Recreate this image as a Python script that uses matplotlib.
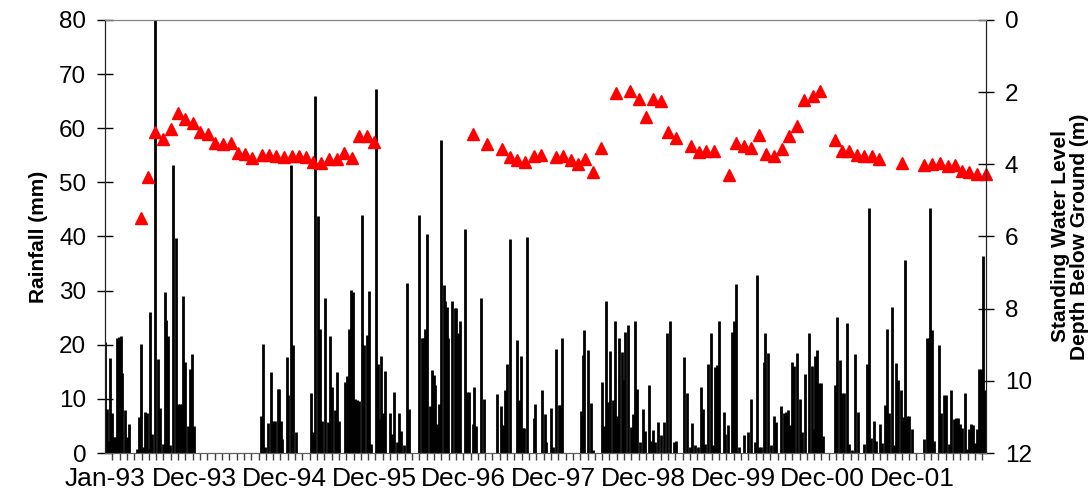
import numpy as np
import pandas as pd
import matplotlib
matplotlib.use("Agg")
import matplotlib.pyplot as plt
import matplotlib.dates as mdates

plt.rcParams["font.family"] = ["Liberation Sans", "DejaVu Sans"]

# daily rainfall: day number since 1 Jan 1993, rainfall (mm)
rain_day = [
    0, 9, 13, 22, 27, 36, 40, 48, 57, 63, 67, 81, 87, 98, 128, 137, 147, 155, 160, 168,
    172, 183, 191, 203, 213, 223, 235, 241, 248, 256, 264, 273, 287, 296, 304, 311, 316, 323, 334, 343,
    351, 359,
    630, 638, 646, 659, 670, 679, 686, 697, 702, 709, 716, 733, 740, 749, 757, 772, 833, 841,
    849, 860, 868, 876, 889, 899, 907, 916, 927, 938, 946, 969, 975, 985, 992, 1001, 1009, 1018, 1026, 1036,
    1047, 1056, 1066, 1074, 1092, 1102, 1107, 1115, 1122, 1131, 1150, 1160, 1168, 1177, 1187, 1195, 1207, 1218, 1227,
    1267, 1278, 1285, 1292, 1300, 1310, 1320, 1327, 1333, 1340, 1347, 1356, 1366, 1372, 1380, 1386, 1400, 1413,
    1418, 1423, 1434, 1453, 1462, 1469, 1483, 1489, 1499, 1519, 1528, 1583, 1596, 1605, 1614, 1621, 1636, 1664,
    1672, 1679, 1688, 1692, 1702, 1730, 1737, 1762, 1774, 1779, 1799, 1807, 1820, 1831, 1838, 1846,
    1922, 1927, 1933, 1947, 1962, 1968, 2006, 2014, 2023, 2030, 2038, 2048, 2056, 2065, 2074, 2085, 2092, 2100,
    2112, 2122, 2131, 2139, 2148, 2159, 2169, 2181, 2194, 2202, 2213, 2220, 2232, 2244, 2257, 2267, 2280, 2298,
    2305, 2337, 2349, 2361, 2369, 2381, 2391, 2403, 2412, 2422, 2432, 2444, 2454, 2462, 2470, 2479,
    2496, 2502, 2512, 2529, 2539, 2548, 2559, 2578, 2594, 2605, 2621, 2631, 2638, 2646, 2658, 2664, 2677, 2687,
    2700, 2709, 2726, 2738, 2747, 2755, 2763, 2773, 2781, 2794, 2804, 2812, 2823, 2841, 2852, 2862, 2867, 2874,
    2883, 2890, 2899, 2944, 2954, 2964, 2973, 2981, 2993, 3001, 3014, 3027, 3040, 3063, 3074, 3081, 3092, 3102,
    3112, 3128, 3136, 3147, 3152, 3157, 3164, 3174, 3182, 3191, 3201, 3213, 3222, 3229, 3237, 3245, 3256,
    3303, 3316, 3323, 3330, 3339, 3347, 3367, 3375, 3386, 3394, 3404, 3414, 3424, 3435, 3443, 3451, 3459, 3470,
    3478, 3487, 3495, 3502, 3510, 3519, 3527, 3535, 3542, 3549,
]
rain_mm = [
    20.6, 8.2, 2.3, 17.5, 7.3, 3.0, 3.0, 21.2, 21.5, 21.6, 14.7, 8.0, 3.0, 5.4, 0.8, 6.7, 20.2, 1.1, 7.6, 7.3,
    0.8, 26.0, 3.6, 80.0, 17.3, 8.4, 1.7, 29.8, 24.6, 21.6, 1.4, 53.3, 39.7, 9.0, 9.1, 9.1, 29.0, 16.9, 4.9, 15.6,
    18.2, 4.9,
    6.8, 20.2, 1.1, 5.6, 15.0, 6.0, 6.0, 11.9, 11.9, 6.0, 2.5, 17.8, 10.7, 53.3, 19.9, 3.8, 11.0, 3.9,
    66.0, 43.8, 23.0, 5.9, 28.6, 5.7, 21.6, 12.2, 8.0, 15.0, 6.0, 13.1, 14.2, 23.0, 30.2, 29.8, 9.9, 9.8, 9.6, 44.0,
    19.9, 21.8, 30.0, 1.7, 67.3, 16.4, 6.2, 17.9, 7.3, 15.2, 7.4, 3.6, 11.2, 2.0, 7.4, 4.1, 1.4, 31.5, 8.2,
    44.0, 21.2, 21.2, 23.0, 40.4, 8.6, 15.4, 14.4, 12.5, 5.4, 9.1, 57.8, 31.0, 28.0, 27.0, 21.2, 28.0, 26.7,
    26.7, 22.1, 24.4, 41.4, 11.3, 11.3, 5.4, 12.2, 4.9, 28.6, 9.9, 10.9, 8.6, 5.1, 11.6, 16.5, 39.5, 20.9,
    9.8, 17.9, 4.7, 4.7, 39.9, 6.5, 9.1, 11.7, 7.2, 2.0, 8.4, 1.1, 19.3, 8.8, 8.8, 21.2,
    7.8, 18.1, 22.8, 19.0, 9.3, 0.5, 13.1, 4.9, 28.0, 9.4, 18.9, 9.8, 24.3, 6.8, 21.2, 18.7, 13.5, 22.4,
    23.6, 4.8, 7.2, 24.3, 11.9, 2.0, 8.2, 4.0, 12.5, 2.3, 4.3, 2.0, 5.7, 3.3, 5.7, 22.1, 24.3, 2.0,
    2.2, 17.7, 11.1, 1.2, 5.6, 1.4, 1.1, 12.2, 8.2, 1.7, 16.4, 22.2, 1.4, 15.9, 16.2, 24.3,
    7.6, 3.6, 5.1, 22.4, 24.3, 31.2, 1.2, 3.4, 3.8, 9.9, 2.0, 32.9, 1.1, 1.2, 16.9, 22.1, 18.4, 1.4,
    6.8, 5.7, 8.6, 7.3, 7.6, 8.0, 5.1, 16.9, 16.0, 18.4, 9.9, 3.9, 14.6, 22.1, 16.0, 4.5, 17.9, 19.0,
    13.0, 13.0, 3.1, 12.5, 25.1, 17.2, 11.0, 11.0, 24.1, 1.7, 0.5, 18.3, 7.6, 1.7, 16.4, 45.2, 2.7, 6.0,
    2.3, 5.4, 1.9, 8.8, 4.2, 23.0, 7.3, 27.0, 1.4, 16.7, 13.5, 11.6, 6.7, 35.7, 6.8, 6.8, 4.5,
    2.5, 21.2, 21.2, 45.2, 22.7, 2.3, 19.9, 7.3, 10.7, 10.7, 1.7, 11.7, 6.2, 6.4, 6.4, 5.4, 4.7, 11.0,
    0.8, 4.5, 5.4, 5.1, 1.9, 4.5, 15.6, 15.6, 36.4, 11.6,
]

# standing water level (m below ground)
wl_date = [
    "1993-05-25", "1993-06-22", "1993-07-22", "1993-08-23", "1993-09-24", "1993-10-23", "1993-11-21", "1993-12-21",
    "1994-01-21", "1994-02-21", "1994-03-21", "1994-04-22", "1994-05-23", "1994-06-22", "1994-07-21", "1994-08-19",
    "1994-09-25", "1994-10-25", "1994-11-22", "1994-12-23", "1995-01-25", "1995-02-23", "1995-03-23", "1995-04-22",
    "1995-05-23", "1995-06-25", "1995-07-25", "1995-08-24", "1995-09-25", "1995-10-22", "1995-11-23", "1995-12-24",
    "1997-01-24", "1997-03-24", "1997-05-23", "1997-06-22", "1997-07-23", "1997-08-24", "1997-09-27", "1997-10-27",
    "1997-12-25", "1998-01-25", "1998-02-24", "1998-03-26", "1998-04-23", "1998-05-23", "1998-06-25", "1998-08-24",
    "1998-10-22", "1998-11-25", "1998-12-24", "1999-01-23", "1999-02-23", "1999-03-22", "1999-04-23", "1999-06-23",
    "1999-07-24", "1999-08-24", "1999-09-25", "1999-11-25", "1999-12-22", "2000-01-23", "2000-02-22", "2000-03-23",
    "2000-04-22", "2000-05-23", "2000-06-24", "2000-07-24", "2000-08-24", "2000-09-23", "2000-10-26", "2000-11-26",
    "2001-01-25", "2001-02-21", "2001-03-24", "2001-04-23", "2001-05-23", "2001-06-22", "2001-07-23", "2001-10-24",
    "2002-01-19", "2002-02-22", "2002-03-25", "2002-04-24", "2002-05-25", "2002-06-21", "2002-07-21", "2002-08-22",
    "2002-09-25",
]
wl_depth = [
    5.50, 4.34, 3.10, 3.31, 3.02, 2.59, 2.75, 2.85,
    3.10, 3.17, 3.40, 3.44, 3.40, 3.68, 3.70, 3.83,
    3.74, 3.74, 3.77, 3.79, 3.77, 3.77, 3.79, 3.93,
    3.97, 3.86, 3.86, 3.68, 3.83, 3.22, 3.22, 3.37,
    3.16, 3.44, 3.58, 3.79, 3.88, 3.93, 3.77, 3.74,
    3.79, 3.77, 3.88, 3.99, 3.86, 4.20, 3.56, 2.03,
    1.96, 2.19, 2.70, 2.19, 2.25, 3.10, 3.28, 3.49,
    3.65, 3.62, 3.62, 4.30, 3.42, 3.48, 3.56, 3.18,
    3.72, 3.77, 3.58, 3.22, 2.94, 2.22, 2.11, 1.96,
    3.33, 3.62, 3.62, 3.74, 3.76, 3.77, 3.86, 3.95,
    4.02, 3.99, 3.97, 4.04, 4.02, 4.18, 4.20, 4.27,
    4.27,
]

start = np.datetime64("1993-01-01")
rain_t = start + np.array(rain_day).astype("timedelta64[D]")
wl_t = pd.to_datetime(wl_date)

fig = plt.figure(figsize=(10.91, 4.97), dpi=100)
ax = fig.add_axes([105 / 1091, 1 - 453 / 497, 881 / 1091, 433 / 497])
ax2 = ax.twinx()

ax.vlines(rain_t, 0, rain_mm, color="black", lw=2.0)
ax2.plot(wl_t, wl_depth, ls="none", marker="^", ms=9, color="#FF0000",
         mec="#FF0000", clip_on=False)

t0 = mdates.date2num(start)
ax.set_xlim(t0, t0 + 3555)
ax.set_ylim(0, 80)
ax.set_yticks(np.arange(0, 81, 10))
ax2.set_ylim(12, 0)
ax2.set_yticks(np.arange(0, 13, 2))

ax.set_xticks(t0 + 362 * np.arange(10))
ax.set_xticks(t0 + 29.5 * np.arange(121), minor=True)
ax.xaxis.set_major_formatter(mdates.DateFormatter("%b-%y"))

ax.tick_params(axis="x", which="major", length=0, labelsize=19, pad=10)
ax.tick_params(axis="x", which="minor", direction="out", length=5, width=1, color="#404040")
ax.tick_params(axis="y", direction="inout", length=11, width=1, labelsize=17.5, pad=8)
ax2.tick_params(axis="y", direction="inout", length=11, width=1, labelsize=17.5, pad=8)

for a in (ax, ax2):
    a.spines["top"].set_color("#808080")
    a.spines["bottom"].set_color("#606060")
    a.spines["left"].set_color("#202020")
    a.spines["right"].set_color("#202020")

ax.set_ylabel("Rainfall (mm)", fontsize=15, fontweight="bold", labelpad=8)
ax2.set_ylabel("Standing Water Level\nDepth Below Ground (m)", fontsize=15,
               fontweight="bold", rotation=90, labelpad=14, linespacing=0.95)

fig.savefig("out.png", dpi=100)
